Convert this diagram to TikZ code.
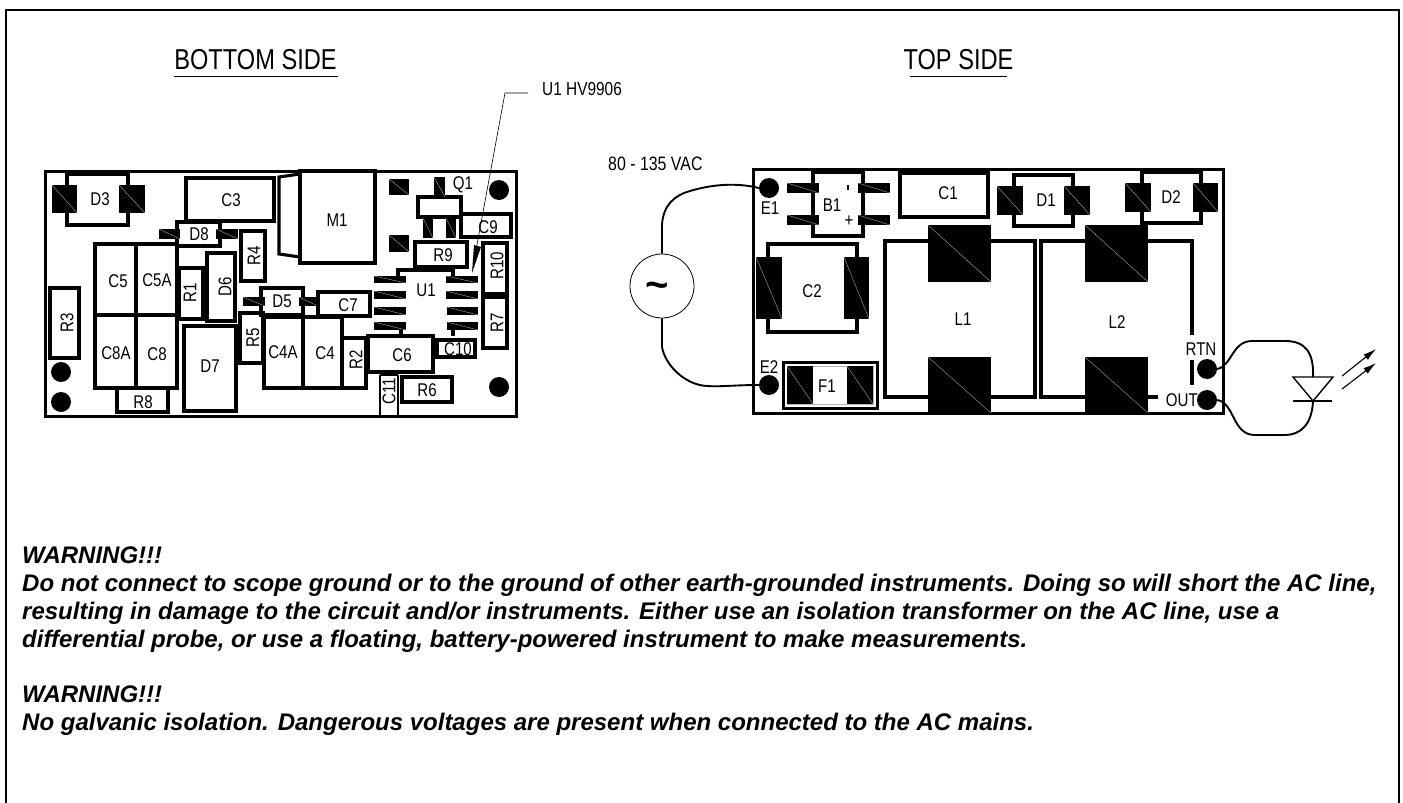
\documentclass[tikz,border=0pt]{standalone}
\usepackage{fontspec}
\setmainfont{Liberation Sans}
\newfontfamily\narrowf[FakeStretch=0.82]{Liberation Sans}
\usetikzlibrary{arrows.meta}
\tikzset{
  frameline/.style={line width=2.4pt,line cap=rect},
  board/.style={line width=3pt,line join=miter},
  part/.style={line width=3.1pt,line join=miter},
  padline/.style={line width=0.4pt,draw=gray!70},
  lbl/.style={font=\narrowf\fontsize{18.4}{18.4}\selectfont,inner sep=0pt},
  title/.style={font=\narrowf\fontsize{28.8}{28.8}\selectfont,inner sep=0pt},
  warn/.style={font=\bfseries\itshape\fontsize{24}{28}\selectfont,inner sep=0pt,anchor=base west},
  hole/.style={circle,fill=black,minimum size=20pt,inner sep=0pt},
  wire/.style={line width=1.9pt},
}
\newcommand\tpad[4]{\fill (#1,#2) rectangle (#3,#4); \draw[padline] (#1,#2) -- (#3,#4);}
\newcommand\pbox[4]{\draw[part] (#1,#2) rectangle (#3,#4);}
\newcommand\brk[4]{\draw[part] (#1,#4) |- (#2,#3) -- (#2,#4);}
\newcommand\lab[4]{\node[lbl] (#1) at (#2,#3) {#4};}
\newcommand\rlab[4]{\node[lbl,rotate=90] (#1) at (#2,#3) {#4};}
\begin{document}
\begin{tikzpicture}[x=1pt,y=-1pt]
\useasboundingbox (0,0) rectangle (1403,803);
\draw[frameline] (6,803) -- (6,10) -- (1399,10) -- (1399,803);

% titles
\node[title] (tbottom) at (255.5,60) {BOTTOM SIDE};
\draw[line width=0.8pt] (174,76) -- (338,76);
\node[title] (ttop) at (958.5,60) {TOP SIDE};
\draw[line width=0.8pt] (910,76) -- (1007,76);

%% ---------- BOTTOM BOARD
\draw[board] (45,171) rectangle (516,416);
% D3
\brk{67}{128}{174}{185} \brk{67}{128}{225}{213}
\tpad{52}{185}{77}{213} \tpad{119}{185}{145}{213}
\lab{lD3}{100}{199}{D3}
% C3
\pbox{186}{178}{274}{221} \lab{lC3}{231}{200}{C3}
% D8
\brk{177}{220}{222}{229} \brk{177}{220}{246}{239}
\tpad{159}{229}{180}{239} \tpad{216}{229}{238}{239}
\lab{lD8}{199}{234}{D8}
% R4
\pbox{241}{231}{265}{281} \rlab{lR4}{254}{256}{R4}
% C5 C5A C8A C8
\pbox{95}{244}{177}{388}
\draw[part] (136,244) -- (136,388) (95,315) -- (177,315);
\lab{lC5}{118}{281}{C5} \lab{lC5A}{157}{280}{C5A} \lab{lC8A}{116}{353}{C8A} \lab{lC8}{157}{354}{C8}
% R1, D6
\pbox{179}{268}{203}{319} \rlab{lR1}{190}{293}{R1}
\pbox{207}{253}{235}{321} \rlab{lD6}{225}{287}{D6}
% D5
\draw[part] (261,297) |- (303,288) -- (303,297);
\draw[part] (261,306) |- (303,315) -- (303,306);
\tpad{243}{297}{265}{306} \tpad{299}{297}{318}{306}
\lab{lD5}{282}{301}{D5}
% C7
\pbox{318}{292}{370}{316} \lab{lC7}{348}{305}{C7}
% R5
\pbox{240}{313}{263}{363} \rlab{lR5}{253}{338}{R5}
% D7
\pbox{184}{326}{236}{411} \lab{lD7}{210}{366}{D7}
% C4A C4
\pbox{264}{317}{342}{388} \draw[part] (303,317) -- (303,388);
\lab{lC4A}{283}{352}{C4A} \lab{lC4}{325}{353}{C4}
% R2
\pbox{342}{338}{366}{388} \rlab{lR2}{356}{360}{R2}
% C6
\pbox{368}{336}{433}{372} \lab{lC6}{402}{355}{C6}
% C10
\pbox{437}{340}{475}{357} \lab{lC10}{458}{349}{C10}
% R6
\pbox{402}{377}{452}{402} \lab{lR6}{427}{390}{R6}
% C11
\draw[part,line width=1.8pt] (380,375) -- (380,416) (398,375) -- (398,416) (380,375) -- (398,375);
\rlab{lC11}{389}{391}{C11}
% R7 R10
\pbox{483}{297}{507}{348} \rlab{lR7}{497}{323}{R7}
\pbox{483}{243}{507}{294} \rlab{lR10}{497}{266}{R10}
% R9
\pbox{415}{242}{467}{267} \lab{lR9}{443}{255}{R9}
% C9
\pbox{461}{214}{511}{237} \lab{lC9}{488}{227}{C9}
% U1
\draw[part] (398,276) |- (453,270) -- (453,276);
\draw[part] (401,330) -- (401,336) (453,330) -- (453,336);
\tpad{374}{276}{406}{283} \tpad{374}{291}{406}{299} \tpad{374}{307}{406}{315} \tpad{374}{322}{406}{330}
\tpad{446}{276}{478}{283} \tpad{446}{291}{478}{299} \tpad{447}{307}{478}{315} \tpad{447}{322}{478}{330}
\lab{lU1}{426}{290}{U1}
% M1
\pbox{300}{171}{375}{263}
\draw[part] (300,174) -- (279,177) -- (279,254) -- (300,257);
\lab{lM1}{337}{220}{M1}
% small pads
\tpad{389}{179}{409}{195} \tpad{389}{235}{409}{252}
% Q1
\draw[part] (418,197) rectangle (461,217);
\tpad{434}{177}{445}{197} \tpad{423}{218}{433}{238} \tpad{446}{218}{456}{238}
\lab{lQ1}{463}{185}{Q1}
% holes
\node[hole] (h1) at (499,190) {}; \node[hole] (h2) at (499,387) {};
\node[hole] (h3) at (61,372) {}; \node[hole] (h4) at (61,402) {};
% R3 R8
\pbox{50}{288}{79}{358} \rlab{lR3}{67}{323}{R3}
\pbox{117}{388}{168}{412} \lab{lR8}{143}{402}{R8}
% U1 leader
\node[font=\narrowf\fontsize{18.8}{18.8}\selectfont,inner sep=0pt,anchor=west] (lHV) at (542,89.5) {U1 HV9906};
\draw[line width=0.6pt] (528,93) -- (505,93) -- (476,250);
\fill (472,273) -- (474,245) -- (481,247) -- cycle;

%% ---------- TOP BOARD
\draw[board] (753,169) rectangle (1223,413);
% terminals
\node[hole] (E1) at (769,188) {}; \node[hole] (E2) at (769,385) {};
\lab{lE1}{770}{208}{E1} \lab{lE2}{769}{367}{E2}
% B1
\draw[part] (813,193) -- (813,172) -- (863,172) -- (863,183);
\draw[part] (813,193) -- (813,236) -- (863,236) -- (863,193);
\tpad{787}{183}{819}{193} \tpad{787}{215}{819}{225} \tpad{858}{183}{890}{193} \tpad{858}{215}{890}{225}
\lab{lB1}{832}{205}{B1}
\node[lbl] (lminus) at (848,187) {\rule{1.6pt}{5pt}};
\lab{lplus}{849}{221}{+}
% C2
\brk{768}{857}{244}{257} \brk{768}{857}{332}{319}
\tpad{756}{257}{782}{319} \tpad{844}{257}{869}{319}
\lab{lC2}{812}{291}{C2}
% F1
\draw[line width=3pt] (783,362) rectangle (877,408);
\draw[line width=0.6pt,draw=gray!60] (787,366) rectangle (873,404);
\tpad{787}{366}{813}{404} \tpad{847}{366}{873}{404}
\lab{lF1}{827}{386}{F1}
% C1
\pbox{900}{173}{988}{217} \lab{lC1}{948}{193}{C1}
% D1
\brk{1014}{1073}{175}{186} \brk{1014}{1073}{226}{215}
\tpad{997}{186}{1023}{215} \tpad{1064}{186}{1090}{215}
\lab{lD1}{1046}{200}{D1}
% D2
\brk{1142}{1201}{172}{183} \brk{1142}{1201}{223}{212}
\tpad{1125}{183}{1151}{212} \tpad{1193}{183}{1218}{212}
\lab{lD2}{1171}{197}{D2}
% L1
\pbox{885}{241}{1035}{397}
\fill (928,225) rectangle (991,282); \draw[padline] (928,225) -- (991,282);
\fill (928,357) rectangle (991,413); \draw[padline] (928,357) -- (991,413);
\lab{lL1}{963}{319}{L1}
% L2
\draw[part] (1192,335) -- (1192,241) -- (1041,241) -- (1041,397) -- (1158,397);
\draw[part] (1192,360) -- (1192,385);
\fill (1085,225) rectangle (1148,282); \draw[padline] (1085,225) -- (1148,282);
\fill (1085,357) rectangle (1148,413); \draw[padline] (1085,357) -- (1148,413);
\lab{lL2}{1117}{322}{L2}
% RTN OUT
\node[hole] (RTN) at (1207,369) {}; \node[hole] (OUT) at (1207,400) {};
\lab{lRTN}{1201}{349}{RTN}
\node[lbl,anchor=east] (lOUT) at (1198,400) {OUT};

% source
\node[circle,draw,line width=0.8pt,minimum size=64pt,inner sep=0pt,fill=white] (src) at (662,286) {};
\node[font=\bfseries\fontsize{40}{40}\selectfont,inner sep=0pt] (tilde) at (657,290) {\textasciitilde};
\draw[wire] (src.north) -- (662,225) .. controls (663,205) and (675,195) .. (690,191) .. controls (710,185) and (735,182) .. (E1.west);
\draw[wire] (src.south) -- (662,347) .. controls (665,365) and (685,385) .. (707,386) .. controls (720,387) and (735,385) .. (E2.west);
\node[font=\narrowf\fontsize{19.4}{19.4}\selectfont,inner sep=0pt,anchor=west] (lVAC) at (608,164) {80 - 135 VAC};

% LED
\coordinate (Ka) at (1313,377);
\coordinate (Kc) at (1313,401);
\draw[wire] (RTN.east) .. controls (1232,366) and (1232,341) .. (1252,341) -- (1285,341) .. controls (1305,341) and (1314,352) .. (Ka);
\draw[wire] (OUT.east) .. controls (1235,403) and (1232,435) .. (1255,435) -- (1285,435) .. controls (1300,435) and (1312,425) .. (Kc);
\draw[line width=1.4pt,line join=miter] (1293,377) -- (1333,377) -- (1313,401) -- cycle;
\draw[line width=1.4pt] (1293,401) -- (1332,401);
\draw[line width=1.1pt,-{Latex[length=13pt,width=7pt]}] (1342,376) -- (1376,349);
\draw[line width=1.1pt,-{Latex[length=13pt,width=7pt]}] (1342,389) -- (1376,363);

%% ---------- WARNINGS
\node[warn] (w1) at (22,563) {WARNING!!!};
\node[warn] (w2) at (22,591) {Do not connect to scope ground or to the ground of other earth-grounded instruments. Doing so will short the AC line,};
\node[warn] (w3) at (22,619) {resulting in damage to the circuit and/or instruments. Either use an isolation transformer on the AC line, use a};
\node[warn] (w4) at (22,647) {differential probe, or use a floating, battery-powered instrument to make measurements.};
\node[warn] (w5) at (22,702) {WARNING!!!};
\node[warn] (w6) at (22,730) {No galvanic isolation. Dangerous voltages are present when connected to the AC mains.};
\end{tikzpicture}
\end{document}
